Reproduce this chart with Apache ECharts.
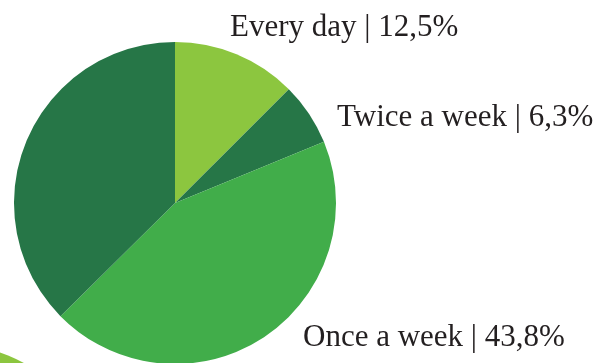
<!DOCTYPE html>
<html>
<head>
<meta charset="utf-8">
<script src="https://cdn.jsdelivr.net/npm/echarts@6/dist/echarts.min.js"></script>
<style>
html,body{margin:0;padding:0;background:#fff;}
#chart{width:606px;height:363px;}
</style>
</head>
<body>
<div id="chart"></div>
<script>
var categories = ['Every day', 'Twice a week', 'Once a week', 'Other'];
var values = [12.5, 6.3, 43.8, 37.4];
var showLabel = [true, true, true, false];
var sliceColors = ['#8cc63f', '#267647', '#41ad4a', '#267647'];
var partialCircle = [1];

var labelPos = [
  {x: 230, y: 28},
  {x: 337, y: 118},
  {x: 303, y: 338}
];

var chart = echarts.init(document.getElementById('chart'), null, {renderer: 'canvas'});

var pieData = categories.map(function (c, i) {
  return {
    name: c,
    value: values[i],
    itemStyle: {color: sliceColors[i]},
    label: {show: showLabel[i]}
  };
});

chart.setOption({
  animation: false,
  backgroundColor: '#ffffff',
  series: [
    {
      type: 'pie',
      silent: true,
      center: [-60, 520],
      radius: 178,
      data: partialCircle.map(function (v) { return {value: v, itemStyle: {color: '#8cc63f'}}; }),
      label: {show: false},
      labelLine: {show: false}
    },
    {
      type: 'pie',
      center: [175, 203],
      radius: 161,
      startAngle: 90,
      clockwise: true,
      data: pieData,
      itemStyle: {borderWidth: 0},
      label: {
        position: 'outside',
        fontFamily: 'Liberation Serif',
        fontSize: 31,
        color: '#231f20',
        overflow: 'none',
        formatter: function (p) {
          return p.name + ' | ' + p.value.toFixed(1).replace('.', ',') + '%';
        }
      },
      labelLine: {show: false},
      labelLayout: function (params) {
        var pos = labelPos[params.dataIndex];
        if (!pos) return {};
        return {x: pos.x, y: pos.y, align: 'left', verticalAlign: 'middle', hideOverlap: false};
      }
    }
  ]
});
</script>
</body>
</html>
